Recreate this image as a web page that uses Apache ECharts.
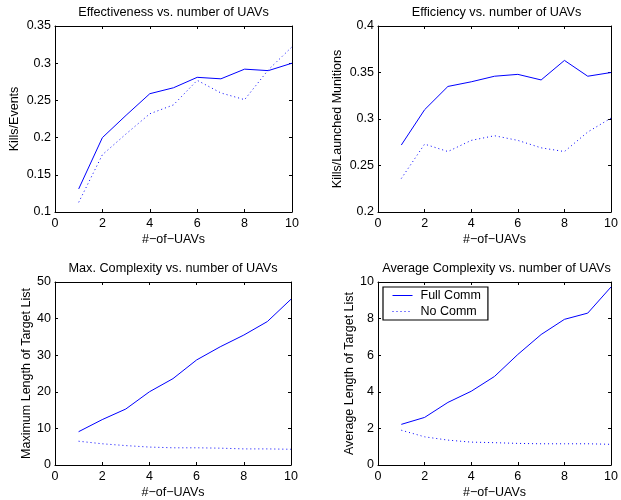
<!DOCTYPE html>
<html>
<head>
<meta charset="utf-8">
<script src="https://cdn.jsdelivr.net/npm/echarts@6/dist/echarts.min.js"></script>
<style>html,body{margin:0;padding:0;background:#fff}#c{width:621px;height:500px}</style>
</head>
<body>
<div id="c"></div>
<script>
var uavs = [1,2,3,4,5,6,7,8,9,10];
var xTicks = [0,2,4,6,8,10];

var effFull = [0.131,0.200,0.230,0.259,0.267,0.281,0.279,0.292,0.290,0.300];
var effNo   = [0.113,0.177,0.205,0.232,0.244,0.277,0.260,0.251,0.291,0.322];

var efcFull = [0.272,0.310,0.335,0.340,0.346,0.348,0.342,0.363,0.346,0.350];
var efcNo   = [0.236,0.273,0.265,0.277,0.282,0.277,0.269,0.265,0.286,0.301];

var maxFull = [9.1,12.4,15.3,20.0,23.6,28.7,32.3,35.5,39.2,45.3];
var maxNo   = [6.5,5.8,5.3,4.9,4.7,4.7,4.6,4.4,4.4,4.3];

var avgFull = [2.22,2.60,3.42,4.03,4.84,6.04,7.13,7.96,8.30,9.73];
var avgNo   = [1.90,1.54,1.36,1.25,1.22,1.18,1.16,1.16,1.16,1.13];

var titles = ["Effectiveness vs. number of UAVs","Efficiency vs. number of UAVs",
              "Max. Complexity vs. number of UAVs","Average Complexity vs. number of UAVs"];
var yNames = ["Kills/Events","Kills/Launched Munitions","Maximum Length of Target List","Average Length of Target List"];
var xName = "#\u2212of\u2212UAVs";
var yRanges = [[0.1,0.35,0.05],[0.2,0.4,0.05],[0,50,10],[0,10,2]];
var seriesNames = ["Full Comm","No Comm"];
var fullData = [effFull, efcFull, maxFull, avgFull];
var noData = [effNo, efcNo, maxNo, avgNo];

var FONT = "Liberation Sans";
var FS = 12.5;
var grids = [
  {left:55, top:26, width:237, height:186},
  {left:378, top:26, width:237, height:186},
  {left:55, top:282, width:236, height:186},
  {left:378, top:282, width:237, height:186}
];
var yNameGaps = [34, 34, 21, 21];

function pairs(xs, ys){ return xs.map(function(x,i){return [x, ys[i]];}); }

var option = {
  animation:false,
  backgroundColor:'#fff',
  textStyle:{fontFamily:FONT},
  title:[], grid:[], xAxis:[], yAxis:[], series:[],
  legend:{
    data:seriesNames,
    orient:'vertical',
    left:383, top:287,
    borderColor:'#000', borderWidth:1.2,
    padding:[2,7,2,9],
    itemGap:3,
    itemWidth:20, itemHeight:13,
    itemStyle:{opacity:0},
    lineStyle:{width:1},
    textStyle:{fontFamily:FONT, fontSize:FS, color:'#000', padding:[0,0,0,3]},
    backgroundColor:'#fff'
  }
};

grids.forEach(function(g,i){
  var r = yRanges[i];
  option.grid.push({left:g.left, top:g.top, width:g.width, height:g.height, show:false, containLabel:false});
  option.title.push({
    text:titles[i],
    left:g.left + g.width/2, top:g.top - 20, padding:0,
    textAlign:'center',
    textStyle:{fontFamily:FONT, fontSize:12.7, fontWeight:'normal', color:'#000'}
  });
  var common = {
    type:'value', gridIndex:i, splitLine:{show:false},
    axisLine:{show:true, onZero:false, lineStyle:{color:'#000', width:1}},
    axisTick:{show:true, inside:true, length:3, lineStyle:{color:'#000'}}
  };
  option.xAxis.push(Object.assign({}, common, {
    position:'bottom', min:0, max:10, interval:2,
    name:xName, nameLocation:'middle', nameGap:21,
    nameTextStyle:{fontFamily:FONT, fontSize:FS, color:'#000'},
    axisLabel:{show:true, margin:5, fontFamily:FONT, fontSize:FS, color:'#000'}
  }));
  option.xAxis.push(Object.assign({}, common, {
    position:'top', min:0, max:10, interval:2, axisLabel:{show:false}
  }));
  option.yAxis.push(Object.assign({}, common, {
    position:'left', min:r[0], max:r[1], interval:r[2],
    name:yNames[i], nameLocation:'middle', nameGap:yNameGaps[i],
    nameTextStyle:{fontFamily:FONT, fontSize:FS, color:'#000'},
    axisLabel:{show:true, margin:4, fontFamily:FONT, fontSize:FS, color:'#000'}
  }));
  option.yAxis.push(Object.assign({}, common, {
    position:'right', min:r[0], max:r[1], interval:r[2], axisLabel:{show:false}
  }));
  option.series.push({
    name:seriesNames[0], type:'line', xAxisIndex:2*i, yAxisIndex:2*i,
    data:pairs(uavs, fullData[i]), symbol:'none', showSymbol:false,
    lineStyle:{color:'#0000ff', width:1}, itemStyle:{color:'#0000ff'}
  });
  option.series.push({
    name:seriesNames[1], type:'line', xAxisIndex:2*i, yAxisIndex:2*i,
    data:pairs(uavs, noData[i]), symbol:'none', showSymbol:false,
    lineStyle:{color:'#0000ff', width:1, type:[1,3]}, itemStyle:{color:'#0000ff'}
  });
});

var chart = echarts.init(document.getElementById('c'), null, {renderer:'canvas'});
chart.setOption(option);
</script>
</body>
</html>
